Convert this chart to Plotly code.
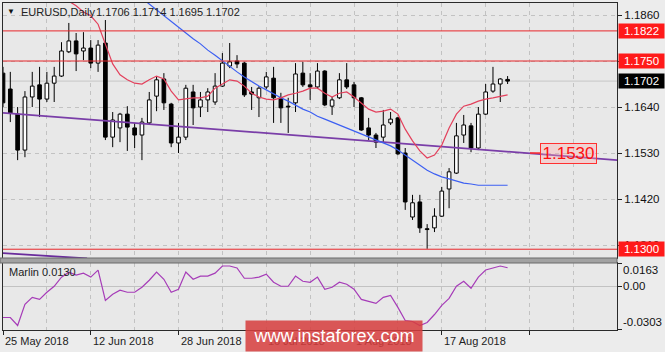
import plotly.graph_objects as go

W, H = 665, 352
X0, X1 = 3, 617
Y_TOP, Y_MAIN_BOT = 3, 258
Y_SUB_TOP, Y_SUB_BOT = 263, 329.5


def fx(px):
    return px / W


def fy(py):
    return 1 - py / H


# ---------------- data ----------------
symbol_title = "EURUSD,Daily"
header_ohlc = "1.1706 1.1714 1.1695 1.1702"

date_labels = ["25 May 2018", "12 Jun 2018", "28 Jun 2018", "16 Jul 2018", "1 Aug 2018", "17 Aug 2018"]
date_bars = [0, 12, 24, 36, 48, 60]

opens = [1.1721, 1.1683, 1.1623, 1.1537, 1.1664, 1.1693, 1.1659, 1.1697, 1.1714, 1.1772,
         1.1798, 1.1774, 1.1781, 1.1745, 1.1793, 1.1568, 1.1590, 1.1623, 1.1590, 1.1573,
         1.1602, 1.1666, 1.1707, 1.1647, 1.1554, 1.1568, 1.1676, 1.1640, 1.1657, 1.1652,
         1.1690, 1.1738, 1.1750, 1.1745, 1.1676, 1.1662, 1.1688, 1.1709, 1.1662, 1.1642,
         1.1650, 1.1721, 1.1693, 1.1688, 1.1726, 1.1642, 1.1662, 1.1705, 1.1693, 1.1662,
         1.1590, 1.1573, 1.1568, 1.1602, 1.1614, 1.1530, 1.1377, 1.1413, 1.1349, 1.1351,
         1.1379, 1.1444, 1.1482, 1.1573, 1.1595, 1.1542, 1.1623, 1.1678, 1.1695, 1.1706]
highs = [1.1736, 1.1724, 1.1640, 1.1678, 1.1724, 1.1736, 1.1724, 1.1736, 1.1795, 1.1841,
         1.1817, 1.1819, 1.1800, 1.1800, 1.1848, 1.1628, 1.1626, 1.1642, 1.1602, 1.1614,
         1.1676, 1.1712, 1.1721, 1.1650, 1.1602, 1.1693, 1.1693, 1.1676, 1.1685, 1.1721,
         1.1769, 1.1793, 1.1764, 1.1748, 1.1688, 1.1690, 1.1724, 1.1736, 1.1674, 1.1662,
         1.1745, 1.1748, 1.1721, 1.1745, 1.1728, 1.1664, 1.1721, 1.1745, 1.1700, 1.1664,
         1.1614, 1.1578, 1.1633, 1.1628, 1.1616, 1.1542, 1.1430, 1.1430, 1.1360, 1.1398,
         1.1449, 1.1494, 1.1602, 1.1621, 1.1602, 1.1640, 1.1695, 1.1736, 1.1709, 1.1714]
lows = [1.1640, 1.1604, 1.1513, 1.1520, 1.1640, 1.1616, 1.1652, 1.1652, 1.1712, 1.1769,
        1.1726, 1.1752, 1.1733, 1.1724, 1.1561, 1.1544, 1.1556, 1.1535, 1.1542, 1.1513,
        1.1597, 1.1630, 1.1633, 1.1544, 1.1530, 1.1561, 1.1597, 1.1616, 1.1628, 1.1645,
        1.1688, 1.1733, 1.1733, 1.1664, 1.1633, 1.1616, 1.1683, 1.1602, 1.1602, 1.1578,
        1.1628, 1.1688, 1.1657, 1.1683, 1.1642, 1.1621, 1.1659, 1.1683, 1.1640, 1.1583,
        1.1561, 1.1542, 1.1556, 1.1597, 1.1525, 1.1394, 1.1370, 1.1339, 1.1301, 1.1341,
        1.1377, 1.1398, 1.1480, 1.1554, 1.1532, 1.1537, 1.1621, 1.1674, 1.1652, 1.1695]
closes = [1.1650, 1.1626, 1.1537, 1.1664, 1.1690, 1.1659, 1.1697, 1.1714, 1.1774, 1.1798,
          1.1767, 1.1781, 1.1745, 1.1788, 1.1568, 1.1609, 1.1623, 1.1592, 1.1573, 1.1604,
          1.1657, 1.1705, 1.1650, 1.1554, 1.1568, 1.1685, 1.1638, 1.1657, 1.1676, 1.1690,
          1.1745, 1.1748, 1.1743, 1.1669, 1.1671, 1.1685, 1.1712, 1.1662, 1.1638, 1.1640,
          1.1719, 1.1693, 1.1688, 1.1726, 1.1645, 1.1657, 1.1705, 1.1688, 1.1662, 1.1585,
          1.1573, 1.1556, 1.1597, 1.1611, 1.1528, 1.1413, 1.1411, 1.1351, 1.1347, 1.1379,
          1.1439, 1.1485, 1.1571, 1.1597, 1.1542, 1.1623, 1.1676, 1.1695, 1.1707, 1.1702]

ma_red = [None] * 9 + [
    1.1893, 1.1882, 1.1867, 1.1858, 1.1838, 1.1791, 1.1743, 1.1717, 1.1705, 1.1697,
    1.1695, 1.1705, 1.1714, 1.1707, 1.1678, 1.1657, 1.1659, 1.1662, 1.1662, 1.1666,
    1.1685, 1.1695, 1.1705, 1.1702, 1.1690, 1.1673, 1.1664, 1.1659, 1.1657, 1.1662,
    1.1669, 1.1673, 1.1678, 1.1685, 1.1685, 1.1673, 1.1664, 1.1673, 1.1676, 1.1664,
    1.1650, 1.1635, 1.1628, 1.1630, 1.1635, 1.1623, 1.1587, 1.1559, 1.1535, 1.1518,
    1.1525, 1.1549, 1.1590, 1.1623, 1.1642, 1.1647, 1.1654, 1.1659, 1.1662, 1.1666,
    1.1669]
ma_blue = [None] * 19 + [
    1.1900, 1.1886, 1.1872, 1.1860, 1.1846, 1.1831, 1.1817, 1.1803, 1.1791, 1.1776,
    1.1764, 1.1750, 1.1738, 1.1724, 1.1712, 1.1700, 1.1690, 1.1681, 1.1671, 1.1662,
    1.1654, 1.1645, 1.1635, 1.1628, 1.1618, 1.1611, 1.1604, 1.1597, 1.1590, 1.1583,
    1.1575, 1.1568, 1.1561, 1.1554, 1.1547, 1.1537, 1.1525, 1.1513, 1.1501, 1.1489,
    1.1480, 1.1473, 1.1468, 1.1463, 1.1458, 1.1456, 1.1453, 1.1453, 1.1453, 1.1453,
    1.1453]

marlin = [-0.0219, -0.0219, -0.0275, -0.0127, -0.0078, -0.0092, -0.0042, 0.0000, 0.0064, 0.0099,
          0.0078, 0.0092, 0.0064, 0.0113, -0.0099, -0.0056, -0.0028, -0.0042, -0.0042, -0.0007,
          0.0042, 0.0099, 0.0049, -0.0042, -0.0021, 0.0099, 0.0049, 0.0071, 0.0071, 0.0092,
          0.0142, 0.0142, 0.0128, 0.0056, 0.0056, 0.0064, 0.0085, 0.0028, 0.0000, 0.0000,
          0.0071, 0.0035, 0.0028, 0.0064, -0.0021, -0.0007, 0.0028, 0.0014, -0.0021, -0.0092,
          -0.0106, -0.0120, -0.0078, -0.0064, -0.0148, -0.0240, -0.0247, -0.0275, -0.0254, -0.0198,
          -0.0134, -0.0085, 0.0000, 0.0035, -0.0014, 0.0064, 0.0114, 0.0128, 0.0142, 0.0130]
marlin_name = "Marlin 0.0130"

trend_main_x = [0, 84]
trend_main_y = [1.1626, 1.1513]
trend_low_x = [-0.4, 11.5]
trend_low_y = [1.1291, 1.1278]

levels_red = [1.1822, 1.1750, 1.1300]
last_price = 1.1702
marked_level = 1.1530
price_ticks = [1.1310, 1.1420, 1.1530, 1.1640, 1.1750, 1.1860]
marlin_ticks = [0.0163, 0.0, -0.0303]
marlin_labels = ["0.0163", "0.00", "-0.0303"]

# ---------------- figure ----------------
FONT = "Liberation Sans, Arial, sans-serif"
BG = "#e8e8e8"
GRID = "#c2c2c2"
n = len(opens)
bars = list(range(n))

fig = go.Figure()

# candle bodies
body_base = [min(o, c) for o, c in zip(opens, closes)]
body_h = [max(abs(c - o), 0.00003) for o, c in zip(opens, closes)]
body_col = ["white" if c >= o else "black" for o, c in zip(opens, closes)]
fig.add_trace(go.Bar(x=bars, y=body_h, base=body_base, width=0.5,
                     marker=dict(color=body_col, line=dict(color="black", width=1)),
                     xaxis="x", yaxis="y", hoverinfo="skip", showlegend=False))

# wicks
wx, wy = [], []
for i, (o, h, l, c) in enumerate(zip(opens, highs, lows, closes)):
    wx += [i, i, None, i, i, None]
    wy += [max(o, c), h, None, l, min(o, c), None]
fig.add_trace(go.Scatter(x=wx, y=wy, mode="lines", line=dict(color="black", width=1),
                         xaxis="x", yaxis="y", hoverinfo="skip", showlegend=False))

# trend lines
fig.add_trace(go.Scatter(x=trend_main_x, y=trend_main_y, mode="lines",
                         line=dict(color="#7a3ea8", width=1.8), xaxis="x", yaxis="y",
                         hoverinfo="skip", showlegend=False))
fig.add_trace(go.Scatter(x=trend_low_x, y=trend_low_y, mode="lines",
                         line=dict(color="#6a2c9c", width=1.8), xaxis="x", yaxis="y",
                         hoverinfo="skip", showlegend=False))

# moving averages
fig.add_trace(go.Scatter(x=bars, y=ma_blue, mode="lines", line=dict(color="#3c5ff2", width=1.2),
                         xaxis="x", yaxis="y", hoverinfo="skip", showlegend=False))
fig.add_trace(go.Scatter(x=bars, y=ma_red, mode="lines", line=dict(color="#e3405c", width=1.2),
                         xaxis="x", yaxis="y", hoverinfo="skip", showlegend=False))

# Marlin
fig.add_trace(go.Scatter(x=bars, y=marlin, mode="lines", line=dict(color="#a63cb8", width=1.2),
                         xaxis="x2", yaxis="y2", hoverinfo="skip", showlegend=False))

shapes = []
# last price line
shapes.append(dict(type="line", xref="paper", yref="y", x0=fx(X0), x1=fx(X1),
                   y0=last_price, y1=last_price, line=dict(color="#c6c6c6", width=1), layer="below"))
for lv in levels_red:
    shapes.append(dict(type="line", xref="paper", yref="y", x0=fx(X0), x1=fx(X1),
                       y0=lv, y1=lv, line=dict(color="#e8262a", width=1)))
# stub to the level label
shapes.append(dict(type="line", xref="paper", yref="y", x0=fx(530), x1=fx(540),
                   y0=marked_level, y1=marked_level, line=dict(color="#ff2a2a", width=1.5)))
# separator between panes
shapes.append(dict(type="rect", xref="paper", yref="paper", x0=fx(0), x1=fx(X1),
                   y0=fy(Y_SUB_TOP), y1=fy(Y_MAIN_BOT), fillcolor="#a2a2a2",
                   line=dict(color="#6a6a6a", width=1)))

ann = []
# header
ann.append(dict(text="▼", x=fx(5), y=fy(11), xref="paper", yref="paper", xanchor="left",
                yanchor="middle", showarrow=False, font=dict(size=8, color="#111", family=FONT)))
ann.append(dict(text=symbol_title, x=fx(19), y=fy(12), xref="paper", yref="paper", xanchor="left",
                yanchor="middle", showarrow=False, font=dict(size=11, color="#222", family=FONT)))
ann.append(dict(text=header_ohlc, x=fx(94), y=fy(12), xref="paper", yref="paper", xanchor="left",
                yanchor="middle", showarrow=False, font=dict(size=11, color="#222", family=FONT)))
# Marlin label
ann.append(dict(text=marlin_name, x=fx(7), y=fy(272), xref="paper", yref="paper", xanchor="left",
                yanchor="middle", showarrow=False, font=dict(size=11, color="#222", family=FONT)))
# Marlin axis labels (drawn inside the pane edges like MT4)
marlin_label_y = [270, 286, 322]
for t, py in zip(marlin_labels, marlin_label_y):
    ann.append(dict(text=t, x=fx(621), y=fy(py), xref="paper", yref="paper", xanchor="left",
                    yanchor="middle", showarrow=False, font=dict(size=11.5, color="#111", family=FONT)))
# right price boxes
box_specs = [(levels_red[0], "#ff1a1a"), (levels_red[1], "#ff1a1a"), (last_price, "#000000"),
             (levels_red[2], "#ff1a1a")]
for lv, col in box_specs:
    ann.append(dict(text=f"{lv:.4f}", x=fx(618), y=lv, xref="paper", yref="y", xanchor="left",
                    yanchor="middle", showarrow=False, bgcolor=col, width=43, height=12,
                    borderpad=1, align="center",
                    font=dict(size=11.5, color="white", family=FONT)))
# level label
ann.append(dict(text=f"{marked_level:.4f}", x=fx(568), y=marked_level, xref="paper", yref="y",
                xanchor="center", yanchor="middle", showarrow=False,
                bgcolor="rgba(255,170,170,0.35)", bordercolor="#ff3030", borderwidth=1,
                borderpad=0, width=55, height=19,
                font=dict(size=17, color="#ff1010", family=FONT)))
# date labels
for b, t in zip(date_bars, date_labels):
    ann.append(dict(text=t, x=b, y=fy(341), xref="x", yref="paper", xanchor="left",
                    yanchor="middle", showarrow=False, font=dict(size=11, color="#222", family=FONT)))
# watermark
ann.append(dict(text="www.instaforex.com", x=fx(333.5), y=fy(336), xref="paper", yref="paper",
                xanchor="center", yanchor="middle", showarrow=False,
                bgcolor="rgba(214,62,62,0.86)", width=176, height=30, borderpad=0,
                font=dict(size=18, color="white", family=FONT)))

xr = [0, (X1 - X0) / 7.313]
fig.update_layout(
    width=W, height=H, margin=dict(l=0, r=0, t=0, b=0),
    paper_bgcolor="#ececec", plot_bgcolor=BG, barmode="overlay", showlegend=False,
    font=dict(family=FONT, size=11, color="#111"),
    xaxis=dict(domain=[fx(X0), fx(X1)], range=xr, anchor="y",
               tickmode="array", tickvals=list(range(0, 85, 6)), showticklabels=False,
               ticks="", showgrid=True, gridcolor=GRID, griddash="4px,4px", gridwidth=1,
               zeroline=False, showline=True, mirror=True, linecolor="#2a2a2a", linewidth=1),
    yaxis=dict(domain=[fy(Y_MAIN_BOT), fy(Y_TOP)], range=[1.12790, 1.18887], anchor="x",
               side="right", tickmode="array", tickvals=price_ticks,
               ticktext=[f"{v:.4f}" for v in price_ticks], ticks="outside", ticklen=4,
               tickcolor="#222", tickfont=dict(size=11.5, color="#111", family=FONT),
               showgrid=True, gridcolor=GRID, griddash="4px,4px", zeroline=False,
               showline=True, mirror=True, linecolor="#2a2a2a", linewidth=1),
    xaxis2=dict(domain=[fx(X0), fx(X1)], range=xr, anchor="y2", matches="x",
                tickmode="array", tickvals=list(range(0, 85, 12)), ticktext=[""] * 8,
                ticks="outside", ticklen=4, tickcolor="#222",
                showgrid=True, gridcolor=GRID, griddash="4px,4px",
                minor=dict(tickmode="array", tickvals=list(range(6, 85, 12)), showgrid=True,
                           gridcolor=GRID, griddash="4px,4px", ticks=""),
                zeroline=False, showline=True, mirror=True, linecolor="#2a2a2a", linewidth=1),
    yaxis2=dict(domain=[fy(Y_SUB_BOT), fy(Y_SUB_TOP)], range=[marlin_ticks[2], marlin_ticks[0]],
                anchor="x2", side="right", tickmode="array", tickvals=marlin_ticks,
                ticktext=[""] * 3, ticks="outside", ticklen=4, tickcolor="#222",
                showgrid=False, zeroline=True, zerolinecolor=GRID, zerolinewidth=1,
                showline=True, mirror=True, linecolor="#2a2a2a", linewidth=1),
    shapes=shapes, annotations=ann,
)

fig.write_html("out.html")
